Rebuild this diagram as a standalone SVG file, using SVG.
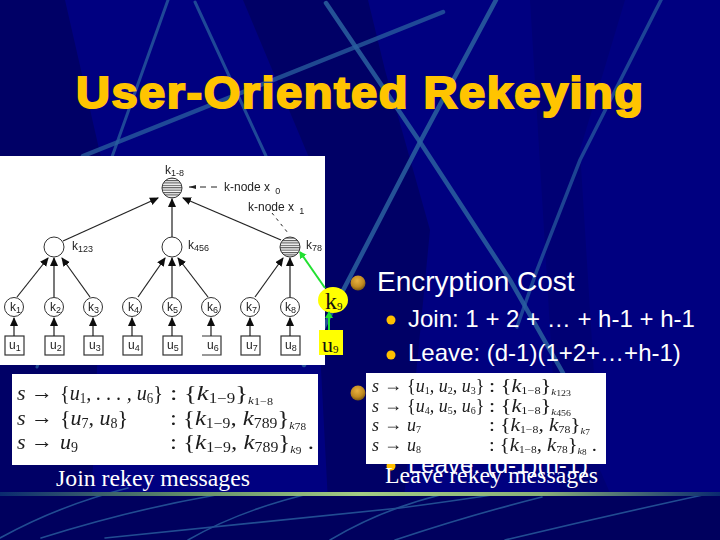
<svg xmlns="http://www.w3.org/2000/svg" width="720" height="540" viewBox="0 0 720 540">
<style>
.ln{stroke:#2a609f;fill:none;stroke-linecap:round}
.band{fill:#000066}
.t{font-family:"Liberation Sans",Arial,sans-serif;fill:#fff}
.cap{font-family:"Liberation Serif","Times New Roman",serif;fill:#fff;font-size:24px}
.lab{font-family:"Liberation Sans",Arial,sans-serif;fill:#222;font-size:12px}
.s{font-size:9px}
.m{font-family:"Liberation Serif","Times New Roman",serif;fill:#1c1c1c;font-size:22px;font-style:italic}
.m2{font-size:18px}
.up{font-style:normal}
.ms{font-size:14px;font-style:normal}
.ms2{font-size:10px;font-style:normal}
.kk{font-size:11px;font-style:italic}
.kk2{font-size:9px;font-style:italic}
.kn{font-size:10px;font-style:normal}
.kn2{font-size:8px;font-style:normal}
.edge{stroke:#222;stroke-width:1.2;fill:none;marker-end:url(#ah)}
.gedge{stroke:#22e030;stroke-width:2;fill:none;marker-end:url(#gh)}
.c{fill:#fff;stroke:#333;stroke-width:1}
.h{fill:url(#hatch);stroke:#333;stroke-width:1}
.sq{fill:#fff;stroke:#333;stroke-width:1.2}
.dot{fill:#ffc000}
</style>
<defs>
<marker id="ah" markerWidth="10" markerHeight="10" refX="8" refY="4" orient="auto" markerUnits="userSpaceOnUse"><path d="M0 0L9 4L0 8z" fill="#111"/></marker>
<marker id="gh" markerWidth="10" markerHeight="10" refX="6" refY="4" orient="auto" markerUnits="userSpaceOnUse"><path d="M0 0L7 4L0 8z" fill="#22e030"/></marker>
<pattern id="hatch" width="3" height="2.4" patternUnits="userSpaceOnUse"><rect width="3" height="2.4" fill="#fff"/><rect width="3" height="1.1" fill="#555"/></pattern>
<radialGradient id="gold" cx="0.45" cy="0.35" r="0.7"><stop offset="0" stop-color="#e8b040"/><stop offset="0.6" stop-color="#c08a20"/><stop offset="1" stop-color="#6a4a10"/></radialGradient>
<linearGradient id="bar" x1="0" x2="1" y1="0" y2="0"><stop offset="0" stop-color="#0a2a70"/><stop offset="0.25" stop-color="#5f8a68"/><stop offset="0.5" stop-color="#a4cc84"/><stop offset="0.75" stop-color="#8ab078"/><stop offset="1" stop-color="#0a2a70"/></linearGradient>
<filter id="soft" x="-5%" y="-5%" width="110%" height="110%"><feGaussianBlur stdDeviation="0.35"/></filter>
</defs>

<g id="background">
<rect width="720" height="540" fill="#000080"/>
<polygon class="band" points="0,0 65,0 105,175 90,540 0,540"/>
<polygon class="band" points="243,0 368,0 385,70 430,230 400,540 330,540 310,160"/>
<polygon points="530,0 625,0 580,150 600,470 610,493 560,493" fill="#000074"/>
<rect y="495" width="720" height="45" fill="#00005e"/>
<path class="ln" stroke-width="3" stroke-opacity="0.75" d="M168 0L37 367"/>
<path class="ln" stroke-width="3" stroke-opacity="0.75" d="M195 2L266 156"/>
<path class="ln" stroke-width="4.5" stroke-opacity="0.85" d="M326 3L420 142L510 280L563 373"/>
<path class="ln" stroke-width="4.5" stroke-opacity="0.85" d="M496 0L420 142L350 277L304 365"/>
<path class="ln" stroke-width="3.5" stroke-opacity="0.7" d="M661 0L580 160L537 270L517 327"/>
<path class="ln" stroke-width="4.5" stroke-opacity="0.75" d="M443 12L83 156"/>
<g stroke-width="1.6" opacity="0.8">
<path class="ln" d="M0 538Q60 505 128 488"/>
<path class="ln" d="M41 538Q130 510 216 495"/>
<path class="ln" d="M105 538L400 508Q460 500 505 493"/>
<path class="ln" d="M188 540Q240 510 312 493"/>
<path class="ln" d="M330 540Q380 510 440 495"/>
<path class="ln" d="M395 540Q470 515 542 497"/>
<path class="ln" d="M505 540Q610 515 712 493"/>
</g>
<rect y="492" width="720" height="4" fill="url(#bar)"/>
</g>

<g id="title"><text class="t" transform="translate(76 108) scale(1.07 1)" x="0" y="0" font-size="44" font-weight="700" textLength="530" lengthAdjust="spacing" style="fill:#ffc400;stroke:#ffc400;stroke-width:2">User-Oriented Rekeying</text></g>

<g id="bullets">
<circle cx="358" cy="283" r="7.5" fill="url(#gold)"/>
<text class="t" x="377" y="291" font-size="28">Encryption Cost</text>
<circle class="dot" cx="391" cy="320" r="4.5"/>
<text class="t" x="408" y="327" font-size="24">Join:  1 + 2 + … + h-1 + h-1</text>
<circle class="dot" cx="391" cy="355" r="4.5"/>
<text class="t" x="408" y="361" font-size="24">Leave: (d-1)(1+2+…+h-1)</text>
<circle cx="358" cy="393" r="7.5" fill="url(#gold)"/>
<circle class="dot" cx="391" cy="466" r="4.5"/>
<text class="t" x="408" y="473" font-size="24">Leave: (d-1)(h-1)</text>
</g>

<g id="tree-panel">
<rect x="0" y="156" width="325" height="209" fill="#fff"/>
</g>

<g filter="url(#soft)">
<g id="k1-8"><circle class="h" cx="172" cy="188" r="10"/><text class="lab" x="165" y="174">k<tspan class="s" dy="2">1-8</tspan></text></g>
<g id="k-node-x0"><text class="lab" x="224" y="191">k-node x <tspan class="s" dy="3" dx="2">0</tspan></text></g>
<g id="k-node-x1"><text class="lab" x="248" y="211">k-node x <tspan class="s" dy="3" dx="2">1</tspan></text></g>
<g id="k123"><circle class="c" cx="54" cy="247" r="10"/><text class="lab" x="72" y="250">k<tspan class="s" dy="2">123</tspan></text></g>
<g id="k456"><circle class="c" cx="172" cy="247" r="10"/><text class="lab" x="188" y="249">k<tspan class="s" dy="2">456</tspan></text></g>
<g id="k78"><circle class="h" cx="290" cy="247" r="10"/><text class="lab" x="306" y="249">k<tspan class="s" dy="2">78</tspan></text></g>
<g id="k1"><circle class="c" cx="14" cy="307" r="9.5"/><text class="lab" x="10" y="311">k<tspan class="s" dy="2">1</tspan></text></g>
<g id="k2"><circle class="c" cx="54" cy="307" r="9.5"/><text class="lab" x="50" y="311">k<tspan class="s" dy="2">2</tspan></text></g>
<g id="k3"><circle class="c" cx="93" cy="307" r="9.5"/><text class="lab" x="88" y="311">k<tspan class="s" dy="2">3</tspan></text></g>
<g id="k4"><circle class="c" cx="132" cy="307" r="9.5"/><text class="lab" x="128" y="311">k<tspan class="s" dy="2">4</tspan></text></g>
<g id="k5"><circle class="c" cx="172" cy="307" r="9.5"/><text class="lab" x="167" y="311">k<tspan class="s" dy="2">5</tspan></text></g>
<g id="k6"><circle class="c" cx="211" cy="307" r="9.5"/><text class="lab" x="207" y="311">k<tspan class="s" dy="2">6</tspan></text></g>
<g id="k7"><circle class="c" cx="250" cy="307" r="9.5"/><text class="lab" x="246" y="311">k<tspan class="s" dy="2">7</tspan></text></g>
<g id="k8"><circle class="c" cx="290" cy="307" r="9.5"/><text class="lab" x="285" y="311">k<tspan class="s" dy="2">8</tspan></text></g>
<g id="u1"><rect class="sq" x="5" y="336" width="19" height="19"/><text class="lab" x="9" y="349">u<tspan class="s" dy="2">1</tspan></text></g>
<g id="u2"><rect class="sq" x="45" y="336" width="19" height="19"/><text class="lab" x="50" y="349">u<tspan class="s" dy="2">2</tspan></text></g>
<g id="u3"><rect class="sq" x="84" y="336" width="19" height="19"/><text class="lab" x="89" y="349">u<tspan class="s" dy="2">3</tspan></text></g>
<g id="u4"><rect class="sq" x="123" y="336" width="19" height="19"/><text class="lab" x="128" y="349">u<tspan class="s" dy="2">4</tspan></text></g>
<g id="u5"><rect class="sq" x="163" y="336" width="19" height="19"/><text class="lab" x="167" y="349">u<tspan class="s" dy="2">5</tspan></text></g>
<g id="u6"><path class="sq" d="M202 336H221V355H202"/><text class="lab" x="207" y="349">u<tspan class="s" dy="2">6</tspan></text></g>
<g id="u7"><rect class="sq" x="241" y="336" width="19" height="19"/><text class="lab" x="246" y="349">u<tspan class="s" dy="2">7</tspan></text></g>
<g id="u8"><rect class="sq" x="281" y="336" width="19" height="19"/><text class="lab" x="285" y="349">u<tspan class="s" dy="2">8</tspan></text></g>
</g>

<g id="k9"><ellipse cx="333" cy="300" rx="15" ry="13" fill="#ffff00"/><text x="325" y="309" font-family="Liberation Serif,serif" font-size="24" fill="#111">k<tspan font-size="11" dy="1">9</tspan></text></g>
<g id="u9"><rect x="319" y="330" width="24" height="25" fill="#ffff00"/><text x="322" y="352" font-family="Liberation Serif,serif" font-size="22" fill="#111">u<tspan font-size="11" dy="1">9</tspan></text></g>

<g id="connectors" filter="url(#soft)">
<path class="edge" d="M63 241L158 198"/>
<path class="edge" d="M172 237L172 199"/>
<path class="edge" d="M281 240L183 198"/>
<path class="edge" d="M17 297L48 258"/>
<path class="edge" d="M54 297L54 258"/>
<path class="edge" d="M90 297L62 258"/>
<path class="edge" d="M138 297L165 258"/>
<path class="edge" d="M172 297L172 258"/>
<path class="edge" d="M208 297L178 258"/>
<path class="edge" d="M255 297L283 258"/>
<path class="edge" d="M290 297L290 258"/>
<path class="edge" d="M14 336L14 318"/>
<path class="edge" d="M54 336L54 318"/>
<path class="edge" d="M93 336L93 318"/>
<path class="edge" d="M132 336L132 318"/>
<path class="edge" d="M172 336L172 318"/>
<path class="edge" d="M211 336L211 318"/>
<path class="edge" d="M250 336L250 318"/>
<path class="edge" d="M290 336L290 318"/>
<path d="M217 187L189 187" stroke="#222" stroke-width="1" stroke-dasharray="6 5" fill="none"/>
<path d="M196 185L189 187L196 189z" fill="#222"/>
<path d="M272 213L288 233" stroke="#222" stroke-width="1" stroke-dasharray="3 4" fill="none"/>
<path class="gedge" d="M325 288L300 252"/>
<path class="gedge" d="M329 330L329 312"/>
</g>

<g id="join-panel">
<rect x="12" y="374" width="306" height="91" fill="#fff"/>
<g filter="url(#soft)">
<text class="m" x="17" y="400">s</text><text class="m up" x="31" y="399">→</text>
<text class="m" x="60" y="400" textLength="103" lengthAdjust="spacingAndGlyphs"><tspan class="up">{</tspan>u<tspan class="ms" dy="3">1</tspan><tspan dy="-3">, . . . , u</tspan><tspan class="ms" dy="3">6</tspan><tspan class="up" dy="-3">}</tspan></text>
<text class="m" x="170" y="400" textLength="103" lengthAdjust="spacingAndGlyphs"><tspan class="up">: {</tspan>k<tspan class="ms" dy="3">1−9</tspan><tspan class="up" dy="-3">}</tspan><tspan class="kk" dy="4">k</tspan><tspan class="kn" dy="1">1−8</tspan></text>
<text class="m" x="17" y="425">s</text><text class="m up" x="31" y="424">→</text>
<text class="m" x="60" y="425"><tspan class="up">{</tspan>u<tspan class="ms" dy="3">7</tspan><tspan dy="-3">, u</tspan><tspan class="ms" dy="3">8</tspan><tspan class="up" dy="-3">}</tspan></text>
<text class="m" x="170" y="425" textLength="136" lengthAdjust="spacingAndGlyphs"><tspan class="up">: {</tspan>k<tspan class="ms" dy="3">1−9</tspan><tspan dy="-3">, k</tspan><tspan class="ms" dy="3">789</tspan><tspan class="up" dy="-3">}</tspan><tspan class="kk" dy="4">k</tspan><tspan class="kn" dy="1">78</tspan></text>
<text class="m" x="17" y="449">s</text><text class="m up" x="31" y="448">→</text>
<text class="m" x="60" y="449">u<tspan class="ms" dy="3">9</tspan></text>
<text class="m" x="170" y="449" textLength="144" lengthAdjust="spacingAndGlyphs"><tspan class="up">: {</tspan>k<tspan class="ms" dy="3">1−9</tspan><tspan dy="-3">, k</tspan><tspan class="ms" dy="3">789</tspan><tspan class="up" dy="-3">}</tspan><tspan class="kk" dy="4">k</tspan><tspan class="kn" dy="1">9</tspan><tspan class="up" dy="-5"> .</tspan></text>
</g>
</g>
<text id="join-caption" class="cap" x="56" y="486" textLength="194" lengthAdjust="spacingAndGlyphs">Join rekey messages</text>

<g id="leave-panel">
<rect x="366" y="373" width="240" height="91" fill="#fff"/>
<g filter="url(#soft)">
<text class="m m2" x="372" y="392">s</text><text class="m m2 up" x="384" y="391">→</text>
<text class="m m2" x="407" y="392"><tspan class="up">{</tspan>u<tspan class="ms2" dy="2">1</tspan><tspan dy="-2">, u</tspan><tspan class="ms2" dy="2">2</tspan><tspan dy="-2">, u</tspan><tspan class="ms2" dy="2">3</tspan><tspan class="up" dy="-2">}</tspan></text>
<text class="m m2" x="489" y="392" textLength="82" lengthAdjust="spacingAndGlyphs"><tspan class="up">: {</tspan>k<tspan class="ms2" dy="2">1−8</tspan><tspan class="up" dy="-2">}</tspan><tspan class="kk2" dy="3">k</tspan><tspan class="kn2" dy="1">123</tspan></text>
<text class="m m2" x="372" y="412">s</text><text class="m m2 up" x="384" y="411">→</text>
<text class="m m2" x="407" y="412"><tspan class="up">{</tspan>u<tspan class="ms2" dy="2">4</tspan><tspan dy="-2">, u</tspan><tspan class="ms2" dy="2">5</tspan><tspan dy="-2">, u</tspan><tspan class="ms2" dy="2">6</tspan><tspan class="up" dy="-2">}</tspan></text>
<text class="m m2" x="489" y="412" textLength="82" lengthAdjust="spacingAndGlyphs"><tspan class="up">: {</tspan>k<tspan class="ms2" dy="2">1−8</tspan><tspan class="up" dy="-2">}</tspan><tspan class="kk2" dy="3">k</tspan><tspan class="kn2" dy="1">456</tspan></text>
<text class="m m2" x="372" y="431">s</text><text class="m m2 up" x="384" y="430">→</text>
<text class="m m2" x="407" y="431">u<tspan class="ms2" dy="2">7</tspan></text>
<text class="m m2" x="489" y="431" textLength="101" lengthAdjust="spacingAndGlyphs"><tspan class="up">: {</tspan>k<tspan class="ms2" dy="2">1−8</tspan><tspan dy="-2">, k</tspan><tspan class="ms2" dy="2">78</tspan><tspan class="up" dy="-2">}</tspan><tspan class="kk2" dy="3">k</tspan><tspan class="kn2" dy="1">7</tspan></text>
<text class="m m2" x="372" y="451">s</text><text class="m m2 up" x="384" y="450">→</text>
<text class="m m2" x="407" y="451">u<tspan class="ms2" dy="2">8</tspan></text>
<text class="m m2" x="489" y="451" textLength="108" lengthAdjust="spacingAndGlyphs"><tspan class="up">: {</tspan>k<tspan class="ms2" dy="2">1−8</tspan><tspan dy="-2">, k</tspan><tspan class="ms2" dy="2">78</tspan><tspan class="up" dy="-2">}</tspan><tspan class="kk2" dy="3">k</tspan><tspan class="kn2" dy="1">8</tspan><tspan class="up" dy="-4"> .</tspan></text>
</g>
</g>
<text id="leave-caption" class="cap" x="385" y="483" textLength="213" lengthAdjust="spacingAndGlyphs">Leave rekey messages</text>
</svg>
